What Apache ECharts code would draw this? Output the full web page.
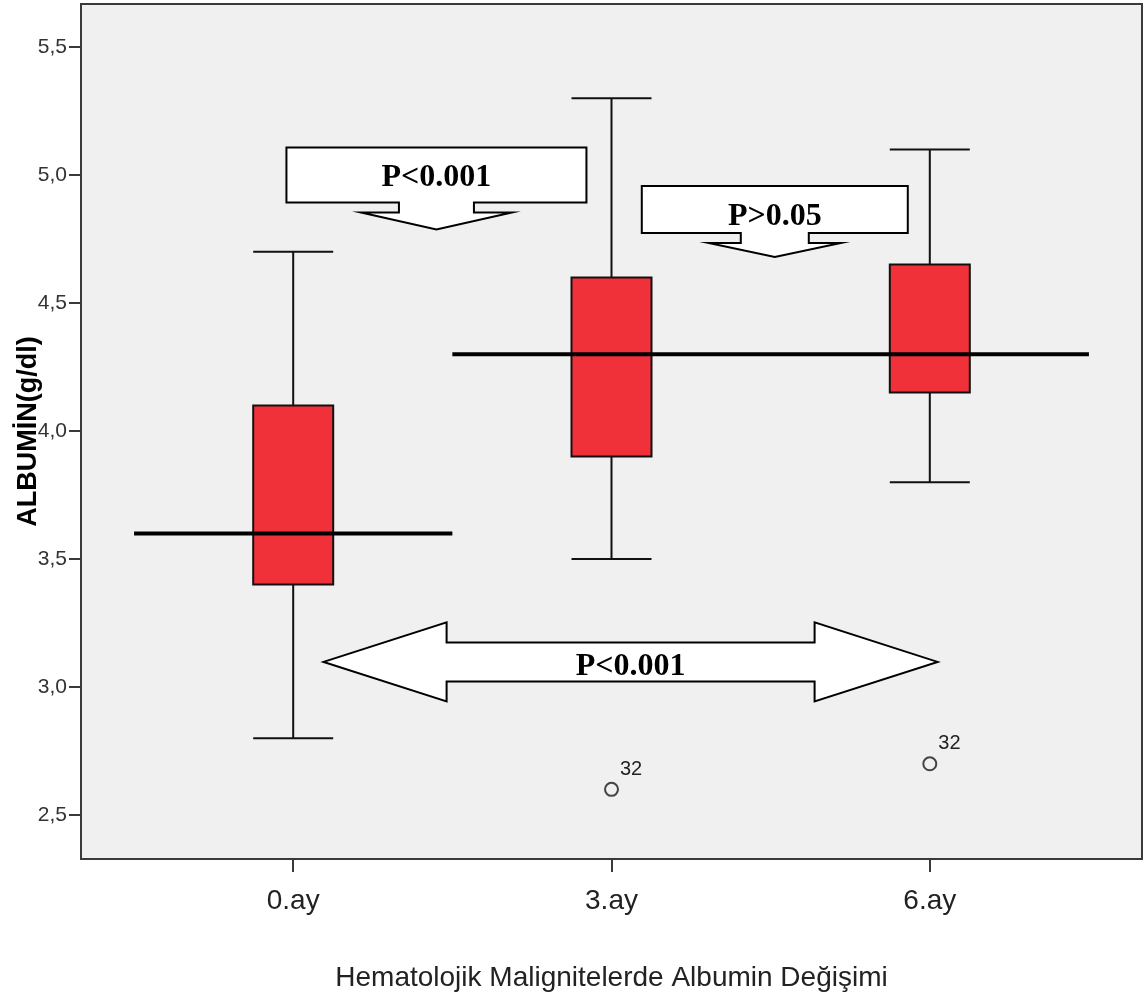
<!DOCTYPE html>
<html>
<head>
<meta charset="utf-8">
<script src="https://cdn.jsdelivr.net/npm/echarts@6/dist/echarts.min.js"></script>
<style>
  html, body { margin: 0; padding: 0; background: #fff; }
  #main { width: 1144px; height: 1002px; }
</style>
</head>
<body>
<div id="main"></div>
<script>
// kategoriler (x ekseni)
const categories = ['0.ay', '3.ay', '6.ay'];
const catIndex = [0, 1, 2];

// kutu grafiği değerleri
const whiskerLow = [2.8, 3.5, 3.8];
const q1 = [3.4, 3.9, 4.15];
const median = [3.6, 4.3, 4.3];
const q3 = [4.1, 4.6, 4.65];
const whiskerHigh = [4.7, 5.3, 5.1];

// aykırı değerler
const outlierX = [1, 2];
const outlierY = [2.6, 2.7];
const outlierLabels = ['32', '32'];

// y ekseni işaretleri
const yTicks = [2.5, 3.0, 3.5, 4.0, 4.5, 5.0, 5.5];

// ortalama çizgileri
const refLine1 = [[-0.5, 3.6], [0.5, 3.6]];
const refLine2 = [[0.5, 4.3], [2.5, 4.3]];

// p değeri etiketleri
const pTexts = ['P<0.001', 'P>0.05', 'P<0.001'];

const boxData = catIndex.map((x, i) => [x, whiskerLow[i], q1[i], median[i], q3[i], whiskerHigh[i]]);
const outlierData = outlierX.map((x, i) => ({ value: [x, outlierY[i]], label: { formatter: outlierLabels[i] } }));

// açıklama şekilleri (merkez veri koordinatında, boyutlar pikselde)
const annotations = [
  { x: 0.45, y: 5.0, kind: 'callout', w: 300, h: 55, stemW: 75, stemH: 10, headW: 151, headH: 17, textDy: 3 },
  { x: 1.513, y: 4.865, kind: 'callout', w: 266, h: 47, stemW: 68, stemH: 10, headW: 132, headH: 14, textDy: 7 },
  { x: 1.06, y: 3.098, kind: 'double', len: 614, headLen: 123, headH: 79, shaftH: 39, textDy: 5 }
];

function renderAnnotation(params, api) {
  const a = annotations[params.dataIndex];
  const c = api.coord([api.value(0), api.value(1)]);
  let pts;
  if (a.kind === 'callout') {
    const hw = a.w / 2, hh = a.h / 2;
    const sw = a.stemW / 2, hdw = a.headW / 2;
    const yb = hh, ys = hh + a.stemH, yt = hh + a.stemH + a.headH;
    pts = [[-hw, -hh], [hw, -hh], [hw, yb], [sw, yb], [sw, ys], [hdw, ys], [0, yt],
      [-hdw, ys], [-sw, ys], [-sw, yb], [-hw, yb]];
  } else {
    const L = a.len / 2, hl = a.headLen, hh = a.headH / 2, sh = a.shaftH / 2;
    pts = [[-L, 0], [-L + hl, -hh], [-L + hl, -sh], [L - hl, -sh], [L - hl, -hh], [L, 0],
      [L - hl, hh], [L - hl, sh], [-L + hl, sh], [-L + hl, hh]];
  }
  return {
    type: 'group',
    children: [
      {
        type: 'polygon',
        shape: { points: pts.map(p => [c[0] + p[0], c[1] + p[1]]) },
        style: { fill: '#ffffff', stroke: '#000000', lineWidth: 2 }
      },
      {
        type: 'text',
        x: c[0],
        y: c[1] + a.textDy,
        style: {
          text: pTexts[params.dataIndex],
          fill: '#000',
          font: 'bold 32px "Liberation Serif", "Times New Roman", serif',
          align: 'center',
          verticalAlign: 'middle'
        }
      }
    ]
  };
}

const chart = echarts.init(document.getElementById('main'), null, { renderer: 'canvas' });

chart.setOption({
  backgroundColor: '#ffffff',
  animation: false,
  grid: {
    left: 81,
    right: 2,
    top: 4,
    bottom: 143,
    outerBoundsMode: 'none',
    show: true,
    backgroundColor: '#f0f0f0',
    borderColor: '#3a3a3a',
    borderWidth: 2
  },
  xAxis: {
    type: 'value',
    min: -2 / 3,
    max: 8 / 3,
    name: 'Hematolojik Malignitelerde Albumin Değişimi',
    nameLocation: 'middle',
    nameGap: 105,
    nameMoveOverlap: false,
    nameTextStyle: {
      fontFamily: '"Liberation Sans", Arial, sans-serif',
      fontSize: 28,
      color: '#222'
    },
    axisLine: { show: true, onZero: false, lineStyle: { color: '#3a3a3a', width: 2 } },
    axisTick: {
      show: true,
      length: 13,
      customValues: catIndex,
      lineStyle: { color: '#3a3a3a', width: 2 }
    },
    axisLabel: {
      customValues: catIndex,
      margin: 28,
      fontFamily: '"Liberation Sans", Arial, sans-serif',
      fontSize: 28,
      color: '#222',
      formatter: v => categories[Math.round(v)]
    },
    splitLine: { show: false }
  },
  yAxis: {
    type: 'value',
    min: 2.328,
    max: 5.668,
    name: 'ALBUMİN(g/dl)',
    nameLocation: 'middle',
    nameGap: 39,
    nameMoveOverlap: false,
    nameTextStyle: {
      fontFamily: '"Liberation Sans", Arial, sans-serif',
      fontSize: 27,
      fontWeight: 'bold',
      color: '#000'
    },
    axisLine: { show: true, onZero: false, lineStyle: { color: '#3a3a3a', width: 2 } },
    axisTick: {
      show: true,
      length: 12,
      customValues: yTicks,
      lineStyle: { color: '#3a3a3a', width: 2 }
    },
    axisLabel: {
      customValues: yTicks,
      margin: 14,
      fontFamily: '"Liberation Sans", Arial, sans-serif',
      fontSize: 21,
      color: '#333',
      formatter: v => v.toFixed(1).replace('.', ',')
    },
    splitLine: { show: false }
  },
  series: [
    {
      type: 'boxplot',
      data: boxData,
      boxWidth: [80, 80],
      itemStyle: {
        color: '#f0313a',
        borderColor: '#111111',
        borderWidth: 2
      },
      z: 2
    },
    {
      type: 'scatter',
      data: outlierData,
      symbol: 'circle',
      symbolSize: 13,
      itemStyle: { color: 'rgba(0,0,0,0)', borderColor: '#444', borderWidth: 2, opacity: 1 },
      label: {
        show: true,
        position: 'right',
        offset: [-4, -20],
        fontFamily: '"Liberation Sans", Arial, sans-serif',
        fontSize: 20,
        color: '#222'
      },
      z: 3
    },
    {
      type: 'line',
      data: refLine1,
      symbol: 'none',
      lineStyle: { color: '#000', width: 4 },
      z: 4
    },
    {
      type: 'line',
      data: refLine2,
      symbol: 'none',
      lineStyle: { color: '#000', width: 4 },
      z: 4
    },
    {
      type: 'custom',
      data: annotations.map(a => [a.x, a.y]),
      renderItem: renderAnnotation,
      z: 5
    }
  ]
});
</script>
</body>
</html>
